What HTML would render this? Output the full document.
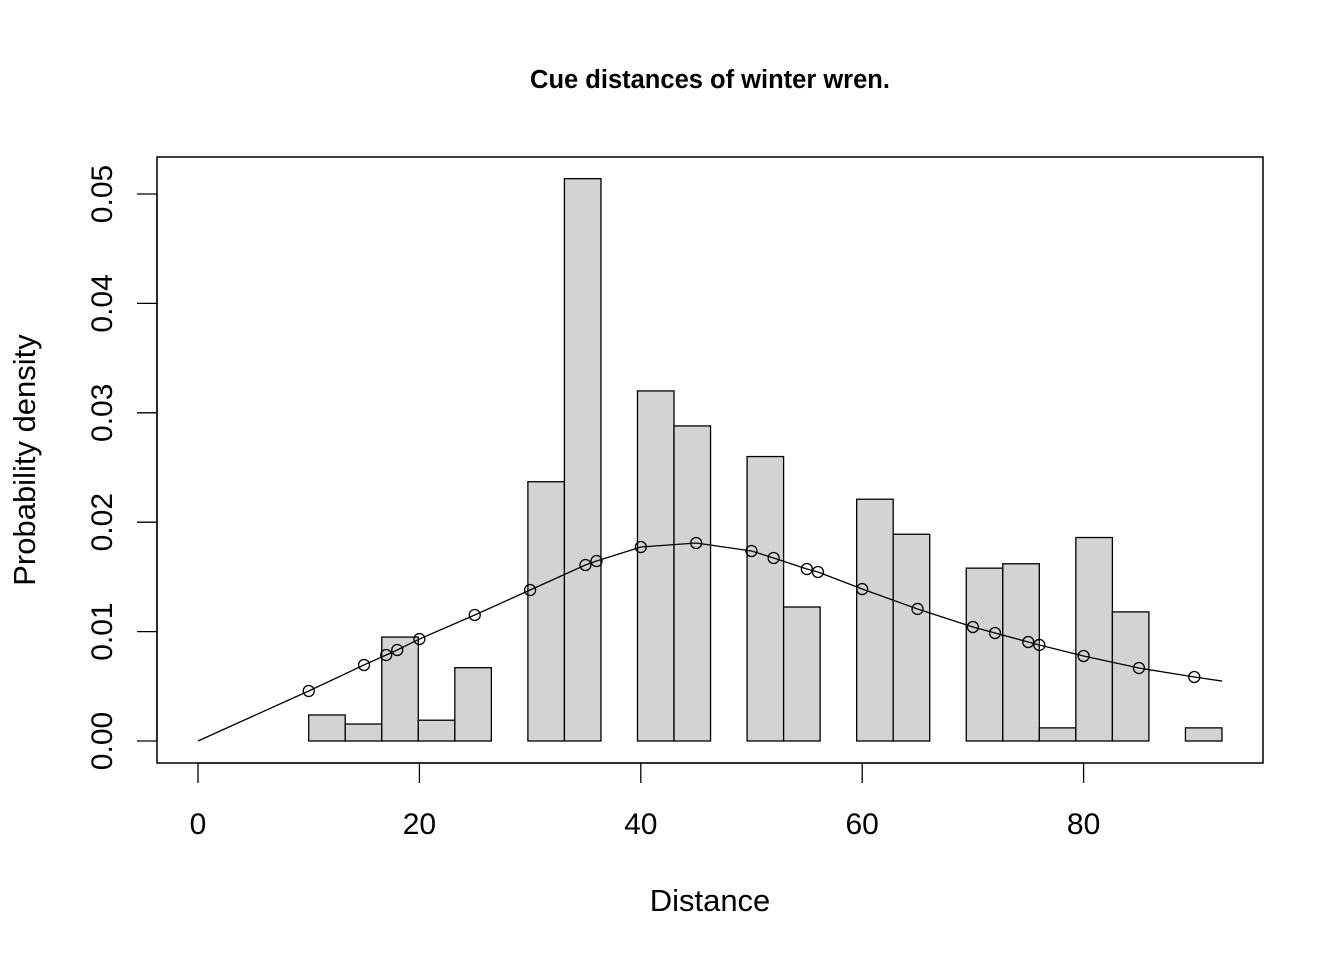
<!DOCTYPE html>
<html><head><meta charset="utf-8"><style>
html,body{margin:0;padding:0;background:#fff}
svg{display:block;font-family:"Liberation Sans",Arial,sans-serif}
</style></head><body>
<svg id="chart" width="1344" height="960" viewBox="0 0 1344 960">
<text x="710" y="88" text-anchor="middle" font-size="25.5" font-weight="bold">Cue distances of winter wren.</text>
<rect x="157" y="157" width="1106" height="606" fill="none" stroke="#000" stroke-width="1.5"/>
<g id="bars"></g>
<g id="curve"></g>
<g id="xaxis"></g>
<g id="yaxis"></g>
<text x="710" y="911" text-anchor="middle" font-size="31">Distance</text>
<text transform="translate(35,460) rotate(-90)" text-anchor="middle" font-size="31">Probability density</text>
</svg>
<script>
const binStarts=[10,13.3,16.6,19.9,23.2,29.8,33.1,39.7,43,49.6,52.9,59.5,62.8,69.4,72.7,76,79.3,82.6,89.2];
const binDensity=[0.00238,0.00155,0.0095,0.0019,0.0067,0.0237,0.0514,0.032,0.0288,0.026,0.01225,0.0221,0.0189,0.0158,0.0162,0.0012,0.0186,0.0118,0.0012];
const binWidth=3.3;
const pointX=[10,15,17,18,20,25,30,35,36,40,45,50,52,55,56,60,65,70,72,75,76,80,85,90];
const pointY=[0.00457,0.00695,0.00786,0.00832,0.00932,0.01152,0.0138,0.01609,0.01645,0.01773,0.0181,0.01737,0.01673,0.01572,0.01545,0.01389,0.01207,0.01042,0.00987,0.00905,0.00878,0.00777,0.00667,0.00585];
const curveEndX=[0,92.5];
const curveEndY=[0,0.00548];
const xTicks=[0,20,40,60,80];
const yTicks=["0.00","0.01","0.02","0.03","0.04","0.05"];
const NS="http://www.w3.org/2000/svg";
const sx=v=>198+v*11.07;
const sy=v=>741-v*10940;
function mk(tag,attrs,parent){const e=document.createElementNS(NS,tag);for(const k in attrs)e.setAttribute(k,attrs[k]);parent.appendChild(e);return e;}
const bars=document.getElementById('bars');
binStarts.forEach((b,i)=>{
  const r=mk('rect',{x:sx(b),y:sy(binDensity[i]),width:sx(b+binWidth)-sx(b),height:sy(0)-sy(binDensity[i]),fill:'#d3d3d3',stroke:'#000','stroke-width':1.3},bars);
  
  
});
const cg=document.getElementById('curve');
const cx=[curveEndX[0],...pointX,curveEndX[1]];
const cy=[curveEndY[0],...pointY,curveEndY[1]];
const pl=mk('polyline',{points:cx.map((x,i)=>sx(x)+','+sy(cy[i])).join(' '),fill:'none',stroke:'#000','stroke-width':1.3},cg);


pointX.forEach((x,i)=>{
  const c=mk('circle',{cx:sx(x),cy:sy(pointY[i]),r:5.5,fill:'none',stroke:'#000','stroke-width':1.3},cg);
  
  
});
const xa=document.getElementById('xaxis');
mk('line',{x1:sx(xTicks[0]),x2:sx(xTicks[xTicks.length-1]),y1:763,y2:763,stroke:'#000','stroke-width':1.3},xa);
xTicks.forEach(t=>{
  mk('line',{x1:sx(t),x2:sx(t),y1:763,y2:783,stroke:'#000','stroke-width':1.3},xa);
  const tx=mk('text',{x:sx(t),y:834,'text-anchor':'middle','font-size':30},xa);
  tx.textContent=t;
  
  
});
const ya=document.getElementById('yaxis');
mk('line',{x1:157,x2:157,y1:sy(0),y2:sy(+yTicks[yTicks.length-1]),stroke:'#000','stroke-width':1.3},ya);
yTicks.forEach(t=>{
  const y=sy(+t);
  mk('line',{x1:137,x2:157,y1:y,y2:y,stroke:'#000','stroke-width':1.3},ya);
  const tx=mk('text',{transform:'translate(112,'+y+') rotate(-90)','text-anchor':'middle','font-size':30},ya);
  tx.textContent=t;
  
  
});
</script>
</body></html>
